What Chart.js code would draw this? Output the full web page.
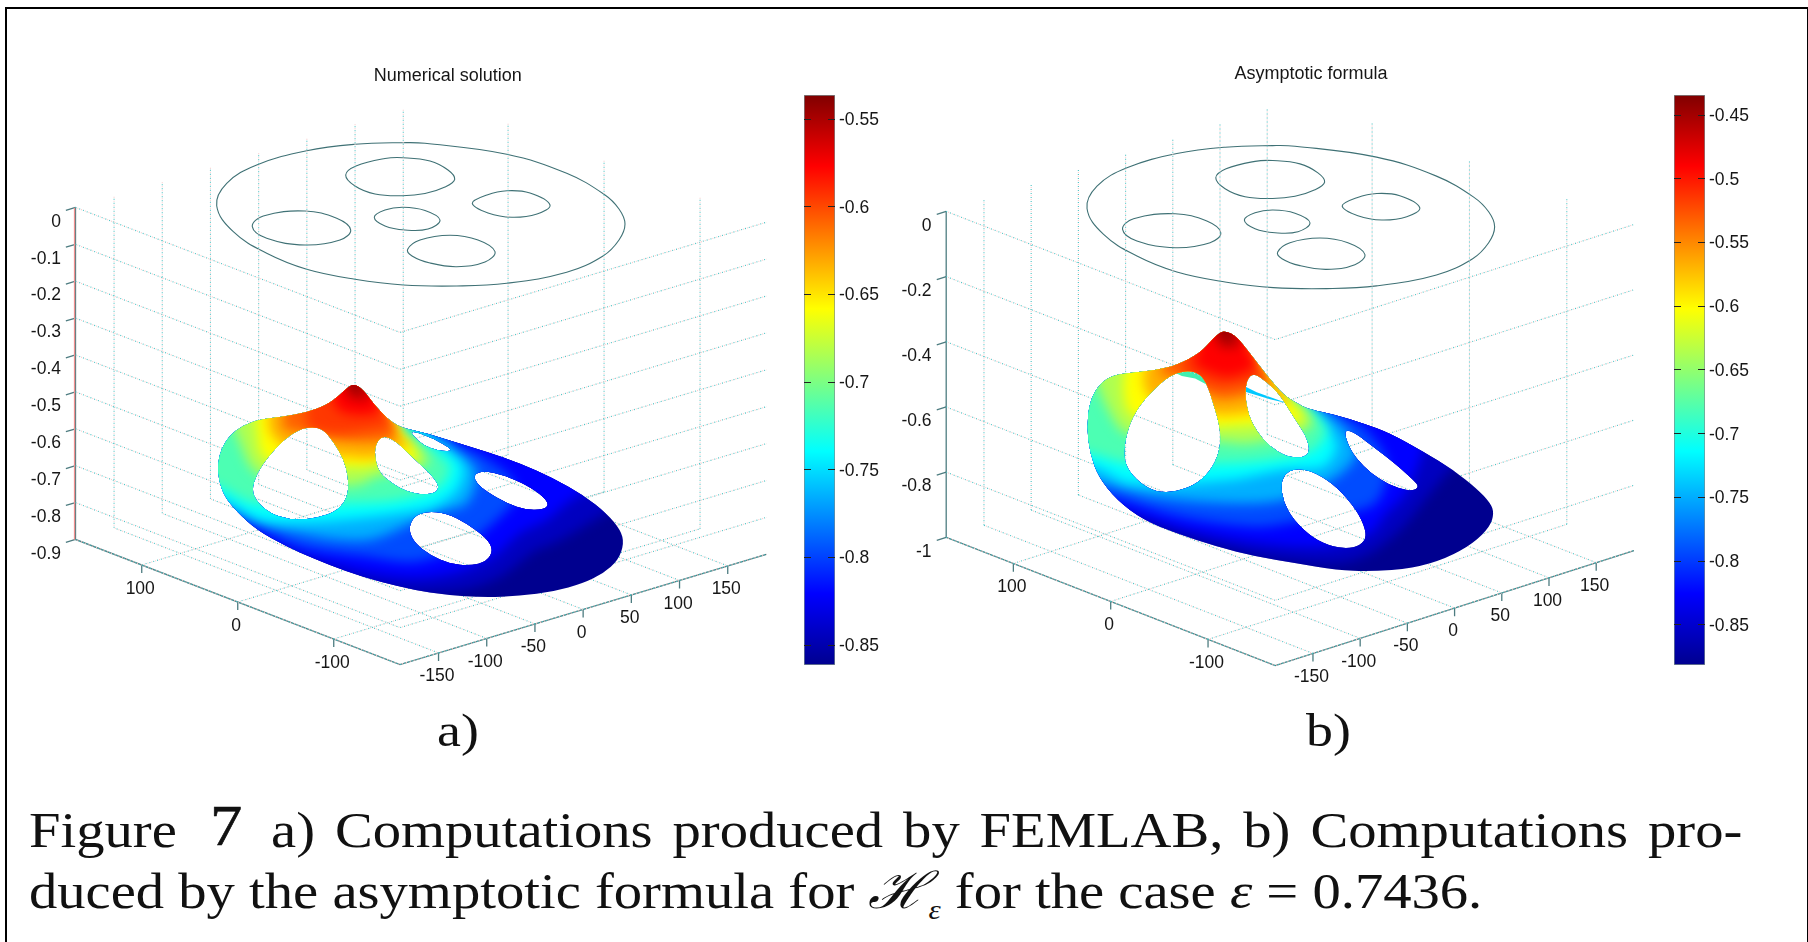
<!DOCTYPE html>
<html>
<head>
<meta charset="utf-8">
<title>Figure 7</title>
<script src="https://cdn.jsdelivr.net/npm/chart.js@4/dist/chart.umd.min.js"></script>
<style>
  html, body { margin: 0; padding: 0; background: #fff; }
  body { width: 1808px; height: 942px; overflow: hidden; position: relative; }
  canvas { position: absolute; }
  #frame { position: absolute; left: 5px; top: 7px; width: 1800px; height: 960px; border: 2px solid #000; }
  .serif { position: absolute; font-family: "Liberation Serif", serif; color: #111; white-space: pre; line-height: 1; transform-origin: left top; }
</style>
</head>
<body>
<div id="frame"></div>

<canvas id="gridA" width="890" height="700" style="left:0;top:0"></canvas>
<canvas id="surfA" width="890" height="700" style="left:0;top:0"></canvas>
<canvas id="barA" width="100" height="610" style="left:804px;top:75px"></canvas>
<canvas id="gridB" width="780" height="700" style="left:890px;top:0"></canvas>
<canvas id="surfB" width="780" height="700" style="left:890px;top:0"></canvas>
<canvas id="barB" width="110" height="610" style="left:1674px;top:75px"></canvas>

<div class="serif" style="left:437px;top:708px;font-size:46px;transform:scaleX(1.17)">a)</div>
<div class="serif" style="left:1306px;top:708px;font-size:46px;transform:scaleX(1.17)">b)</div>

<div class="serif" id="line1" style="left:29px;top:799px;font-size:51px;transform:scaleX(1.11);word-spacing:5.2px">Figure <span style="margin-left:12px;font-size:58px;position:relative;top:-2px;-webkit-text-stroke:0.6px #111">7</span> <span style="margin-left:8px">a) Computations produced by FEMLAB, b) Computations pro-</span></div>
<div class="serif" id="line2" style="left:29px;top:865px;font-size:51px;transform:scaleX(1.11)">duced by the asymptotic formula for <i style="font-family:'DejaVu Serif'">ℋ</i><sub style="font-size:28px;line-height:0"><i>ε</i></sub> for the case <i>ε</i> = 0.7436.</div>

<script>
// Axis ticks of the two 3D boxes
const xTicks = [100, 0, -100];
const yTicks = [-150, -100, -50, 0, 50, 100, 150];
const zTicksA = [0, -0.1, -0.2, -0.3, -0.4, -0.5, -0.6, -0.7, -0.8, -0.9];
const zTicksB = [0, -0.2, -0.4, -0.6, -0.8, -1];
const barTicksA = [-0.55, -0.6, -0.65, -0.7, -0.75, -0.8, -0.85];
const barTicksB = [-0.45, -0.5, -0.55, -0.6, -0.65, -0.7, -0.75, -0.8, -0.85];
const barRangeA = [-0.8614, -0.5361];
const barRangeB = [-0.8814, -0.4343];

// Jet colour stops of the colour bars
const jetStops = [[0, '#00008f'], [0.125, '#0000ff'], [0.375, '#00ffff'], [0.625, '#ffff00'], [0.875, '#ff0000'], [1, '#800000']];

// Domain drawn on the plane z = 0, read off panel a)
const domainOuter = [[216.7,205.7],[226.7,183.3],[256.7,165],[306.7,150.7],[355,144.3],[402.7,142.7],[425,143.3],[506.7,154.3],[566.7,173.3],[604,194.3],[619,209],[625,224],[619,240],[603,256],[566.7,272.3],[506.7,283.3],[456.7,286],[403.3,285],[355,279.3],[306.7,269.3],[266.7,253.3],[233.3,231.7]];
const domainHoles = [
  [[252.3,226.7],[263.3,216],[305,211],[336.7,218.3],[350.7,230],[340,240],[305,245],[266.7,238.3]],
  [[345.7,175],[356,166],[385,158.5],[402.7,157.7],[430,161],[448,170],[454.7,179.3],[445,187],[425,193.5],[402.7,195.7],[375,194],[355,186]],
  [[374.3,217.3],[385,210],[403,207.3],[425,210.5],[440,220],[428,229],[405,230],[385,226]],
  [[472.3,203.3],[487,195],[507,190.7],[530,193],[550,205],[537,214],[512,217.3],[488,213]],
  [[407.7,249.3],[420,240],[450,235.3],[478,240],[495,251.7],[485,262],[456.7,266.7],[430,263],[412,256]]
];

// Surface of panel a): boundary, holes and colour contours in view units
const surfaceOuterA = [[465,42],[490,60],[520,100],[560,145],[600,172],[680,190],[760,215],[860,245],[960,280],[1060,325],[1150,375],[1220,430],[1262,480],[1272,520],[1255,570],[1210,610],[1150,640],[1060,665],[960,678],[850,682],[740,675],[640,660],[540,635],[440,605],[340,565],[260,530],[170,480],[110,425],[70,375],[52,310],[58,250],[85,200],[130,165],[180,148],[250,140],[320,127],[380,105],[420,75],[445,50]];
const surfaceHolesA = [
  [[335,170],[370,178],[400,215],[430,265],[445,320],[445,370],[425,410],[385,435],[320,448],[265,448],[210,430],[170,395],[155,360],[170,310],[205,260],[250,210],[295,180]],
  [[548,195],[590,215],[640,265],[690,310],[717,345],[710,368],[670,375],[620,365],[575,340],[540,310],[525,270],[525,225]],
  [[625,178],[700,205],[760,240],[735,245],[690,235],[655,215]],
  [[820,315],[850,302],[910,315],[980,345],[1030,380],[1047,405],[1030,418],[980,420],[920,400],[860,365],[830,340]],
  [[625,480],[640,440],[680,424],[740,430],[800,460],[860,505],[880,540],[860,575],[810,587],[750,582],[690,555],[645,520]]
];
const contoursA = [
  [[-60,500],[200,560],[400,620],[600,665],[780,660],[900,620],[1000,545],[1060,520],[1150,470],[1230,420],[1300,350]],
  [[-60,470],[200,520],[350,570],[500,610],[640,625],[760,610],[880,560],[960,490],[1040,450],[1100,400],[1180,340],[1200,250]],
  [[-60,420],[120,450],[300,530],[500,560],[650,575],[800,520],[900,440],[950,380],[930,320],[850,260],[760,205]],
  [[-60,400],[90,420],[250,480],[500,510],[700,430],[800,400],[830,300],[760,240],[690,190]],
  [[-60,380],[70,390],[180,450],[350,455],[480,445],[600,430],[700,410],[770,360],[790,290],[740,240],[660,190],[620,170]],
  [[-60,340],[55,350],[160,400],[450,400],[600,390],[720,350],[750,290],[700,240],[640,195],[600,170]],
  [[90,140],[120,220],[160,300],[250,340],[470,345],[530,320],[660,290],[690,270],[640,220],[600,170]],
  [[165,120],[172,190],[190,260],[300,300],[440,290],[500,290],[560,270],[650,270],[645,235],[600,190],[590,150]],
  [[205,120],[212,190],[300,260],[430,260],[520,265],[600,235],[630,225],[590,190],[570,150]],
  [[255,120],[250,175],[330,190],[420,210],[520,215],[590,200],[580,170],[545,130]],
  [[320,120],[325,170],[400,190],[470,185],[540,175],[580,165],[550,120]],
  [[400,95],[415,120],[470,135],[540,125],[530,95]],
  [[440,60],[445,80],[475,90],[510,85],[495,40]],
  [[450,45],[465,60],[485,55],[470,30]]
];

// Surface of panel b)
const surfaceOuterB = [[468,33],[500,50],[540,100],[590,165],[640,225],[690,255],[720,268],[800,285],[880,310],[960,340],[1060,395],[1150,450],[1220,505],[1262,550],[1272,580],[1260,620],[1210,670],[1130,715],[1030,745],[900,755],[800,750],[680,730],[560,710],[440,680],[320,640],[220,600],[140,540],[85,470],[60,400],[50,320],[60,240],[90,190],[130,165],[190,157],[260,150],[320,135],[390,100],[430,55],[450,38]];
const surfaceHolesB = [
  [[320,158],[360,152],[392,163],[412,195],[430,250],[450,320],[452,380],[430,440],[385,490],[320,515],[260,517],[210,490],[170,445],[160,395],[175,320],[205,260],[250,210],[285,178]],
  [[550,158],[590,185],[630,225],[670,290],[710,350],[720,395],[700,413],[650,410],[600,380],[560,335],[535,285],[525,225],[530,180]],
  [[820,330],[850,335],[910,380],[980,435],[1030,480],[1047,500],[1030,513],[985,505],[930,480],[880,440],[840,390]],
  [[632,490],[650,455],[690,445],[740,460],[800,500],[860,570],[888,630],[885,665],[850,685],[790,682],[730,655],[670,600],[640,545]]
];
const contoursB = [
  [[-60,560],[200,610],[400,670],[600,715],[800,730],[900,700],[1000,620],[1080,520],[1150,440],[1250,380]],
  [[-60,530],[150,570],[350,630],[560,670],[760,680],[900,640],[950,580],[1000,530],[1050,420],[1060,350],[1000,300]],
  [[-60,500],[120,530],[330,590],[560,620],[700,600],[900,560],[940,510],[950,420],[880,320],[800,270]],
  [[-60,470],[90,490],[250,530],[480,550],[640,540],[800,470],[860,400],[820,320],[740,265],[700,240]],
  [[-60,430],[70,440],[180,490],[480,480],[640,450],[760,440],[800,380],[770,320],[720,265],[680,235]],
  [[-60,390],[55,400],[170,430],[470,430],[600,420],[730,390],[770,330],[730,280],[690,240],[650,210]],
  [[75,170],[110,260],[170,340],[460,365],[540,370],[680,340],[730,310],[700,265],[640,210]],
  [[165,145],[160,210],[180,280],[300,330],[450,320],[540,315],[700,300],[670,250],[640,215],[600,170]],
  [[225,140],[220,190],[250,240],[440,285],[530,280],[650,245],[620,190],[580,150]],
  [[285,130],[270,165],[330,170],[440,235],[530,225],[600,195],[570,150],[540,110]],
  [[340,130],[330,150],[440,200],[530,190],[585,170],[550,120]],
  [[385,100],[370,130],[460,170],[530,155],[560,130],[530,90]],
  [[440,50],[445,75],[475,85],[510,75],[500,40]],
  [[450,40],[470,55],[490,48],[470,20]]
];
// Thin pieces of surface seen through the holes of panel b)
const sliversB = [
  { color: '#40f0b0', points: [[318,160],[360,153],[392,164],[412,195],[375,176],[335,168]] },
  { color: '#00c8ff', points: [[525,200],[560,217],[652,250],[600,238],[528,216]] }
];
const contourColors = ['#0000c0', '#0000ff', '#004cff', '#00b0ff', '#00ffff', '#4cffb3', '#b0ff50', '#ffff00', '#ffb200', '#ff6100', '#ff3800', '#ff0000', '#bd0000', '#800000'];
const surfaceBase = '#00008f';

// Box limits and view of each panel
const Xmax = 169, Ymax = 190;
const viewA = { cx: 420.9, cy: 546.9, ax: 0.96, ay: 0.964, bx: 0.37, by: 0.29, bz: 369, zmin: -0.9, tickZ: 0.022, labelZ: 61, fringe: true };
const viewB = { cx: 1290.1, cy: 544.3, ax: 0.975, ay: 0.9457, bx: 0.38, by: 0.3033, bz: 326.6, zmin: -1, tickZ: 0.025, labelZ: 931, fringe: false };

Chart.defaults.plugins.legend.display = false;
Chart.defaults.plugins.tooltip.enabled = false;
Chart.defaults.animation = false;
Chart.defaults.responsive = false;

function project(v, X, Y, Z) {
  return {
    x: v.cx - v.ax * X + v.ay * Y,
    y: v.cy - v.bx * X - v.by * Y - v.bz * (Z - v.zmin)
  };
}

function toPoints(list) {
  return list.map(p => ({ x: p[0], y: p[1] }));
}

function dotted(pts) {
  return [
    { data: pts, showLine: true, pointRadius: 0, borderWidth: 1.1, borderColor: '#f7cccc', borderDash: [1, 3], borderDashOffset: 2 },
    { data: pts, showLine: true, pointRadius: 0, borderWidth: 1.1, borderColor: '#48c0c2', borderDash: [1, 3] }
  ];
}

function solid(pts, color) {
  return { data: pts, showLine: true, pointRadius: 0, borderWidth: 1.3, borderColor: color || '#4d7c80' };
}

function boxDatasets(v, zTicks) {
  const out = [];
  const P = (X, Y, Z) => project(v, X, Y, Z);
  yTicks.forEach(Y => out.push(...dotted([P(Xmax, Y, v.zmin), P(Xmax, Y, 0)])));
  xTicks.forEach(X => out.push(...dotted([P(X, Ymax, v.zmin), P(X, Ymax, 0)])));
  zTicks.forEach(Z => out.push(...dotted([P(Xmax, -Ymax, Z), P(-Xmax, -Ymax, Z), P(-Xmax, Ymax, Z)])));
  xTicks.forEach(X => out.push(...dotted([P(X, -Ymax, v.zmin), P(X, Ymax, v.zmin)])));
  yTicks.forEach(Y => out.push(...dotted([P(-Xmax, Y, v.zmin), P(Xmax, Y, v.zmin)])));

  if (v.fringe) out.push(solid([P(Xmax, -Ymax - 1, 0), P(Xmax, -Ymax - 1, v.zmin)], '#f09090'));
  out.push(solid([P(Xmax, -Ymax, 0), P(Xmax, -Ymax, v.zmin), P(-Xmax, -Ymax, v.zmin), P(-Xmax, Ymax, v.zmin)]));
  zTicks.forEach(Z => out.push(solid([P(Xmax, -Ymax, Z), P(Xmax, -Ymax - 10, Z)])));
  xTicks.forEach(X => out.push(solid([P(X, -Ymax, v.zmin), P(X, -Ymax, v.zmin - v.tickZ)])));
  yTicks.forEach(Y => out.push(solid([P(-Xmax, Y, v.zmin), P(-Xmax, Y, v.zmin - v.tickZ)])));
  return out;
}

// Repeats the ends of a closed loop so the spline has no corner at the seam;
// the two extra segments are hidden below
function wrapLoop(loop) {
  return [loop[loop.length - 1], ...loop, loop[0], loop[1]];
}

function domainDatasets() {
  return [domainOuter, ...domainHoles].map(loop => {
    const lastIndex = loop.length + 1;
    return {
      data: toPoints(wrapLoop(loop)),
      xAxisID: 'tx', yAxisID: 'ty',
      showLine: true, pointRadius: 0, borderWidth: 1.1, borderColor: '#3f7175', tension: 0.4,
      segment: {
        borderColor: ctx => (ctx.p0DataIndex === 0 || ctx.p0DataIndex === lastIndex ? 'transparent' : undefined)
      }
    };
  });
}

// Axis labels and the title of one panel, placed through the scales
function labelPlugin(v, zTicks, title, titleX, titleY) {
  return {
    id: 'boxLabels',
    afterDraw(chart) {
      const c = chart.ctx, sx = chart.scales.x, sy = chart.scales.y;
      const text = (s, p, dx, dy, align) => {
        c.textAlign = align;
        c.fillText(s, sx.getPixelForValue(p.x + dx), sy.getPixelForValue(p.y + dy));
      };
      c.save();
      c.fillStyle = '#161616';
      c.textBaseline = 'middle';
      c.font = '17.5px "Liberation Sans"';
      zTicks.forEach(Z => {
        const p = project(v, Xmax, -Ymax, Z);
        text(String(Z), { x: v.labelZ, y: p.y }, 0, 14.5, 'right');
      });
      xTicks.forEach(X => text(String(X), project(v, X, -Ymax, v.zmin), -1.5, 24, 'center'));
      yTicks.forEach(Y => text(String(Y), project(v, -Xmax, Y, v.zmin), -1.5, 23.5, 'center'));
      c.font = '18px "Liberation Sans"';
      text(title, { x: titleX, y: titleY }, 0, 0.5, 'center');
      c.restore();
    }
  };
}

function boxChart(id, v, zTicks, xRange, domainShift, extra, title, titleX, titleY) {
  return new Chart(document.getElementById(id), {
    type: 'scatter',
    data: { datasets: [...boxDatasets(v, zTicks), ...domainDatasets(), ...extra] },
    options: {
      layout: { padding: 0 },
      scales: {
        x: { display: false, min: xRange[0], max: xRange[1] },
        y: { display: false, min: 0, max: 700, reverse: true },
        tx: { display: false, axis: 'x', min: xRange[0] - domainShift[0], max: xRange[1] - domainShift[0] },
        ty: { display: false, axis: 'y', min: -domainShift[1], max: 700 - domainShift[1], reverse: true }
      }
    },
    plugins: [labelPlugin(v, zTicks, title, titleX, titleY)]
  });
}

// Closes a contour upward, past the top of the surface
function closeContour(list) {
  const first = list[0], last = list[list.length - 1];
  return [...list, [last[0], -60], [first[0], -60]];
}

function tracePath(c, loop, sx, sy) {
  const pts = loop.map(p => [sx.getPixelForValue(p[0]), sy.getPixelForValue(p[1])]);
  const n = pts.length;
  c.moveTo((pts[n - 1][0] + pts[0][0]) / 2, (pts[n - 1][1] + pts[0][1]) / 2);
  for (let i = 0; i < n; i++) {
    const q = pts[(i + 1) % n];
    c.quadraticCurveTo(pts[i][0], pts[i][1], (pts[i][0] + q[0]) / 2, (pts[i][1] + q[1]) / 2);
  }
  c.closePath();
}

function surfaceChart(id, outer, holes, contours, sxRange, syRange) {
  const sets = [{
    data: toPoints([[-100, -100], [1500, -100], [1500, 900], [-100, 900]]),
    showLine: true, pointRadius: 0, borderWidth: 0, fill: 'shape', backgroundColor: surfaceBase, order: 0
  }];
  contours.forEach((list, i) => {
    sets.push({
      data: toPoints(closeContour(list)),
      showLine: true, pointRadius: 0, borderWidth: 0, tension: 0.3,
      fill: 'shape', backgroundColor: contourColors[i], order: -i - 1
    });
  });
  return new Chart(document.getElementById(id), {
    type: 'scatter',
    data: { datasets: sets },
    options: {
      layout: { padding: 0 },
      scales: {
        x: { display: false, min: sxRange[0], max: sxRange[1] },
        y: { display: false, min: syRange[0], max: syRange[1], reverse: true }
      }
    },
    plugins: [{
      id: 'surfaceClip',
      beforeDraw(chart) {
        const c = chart.ctx;
        c.save();
        c.beginPath();
        [outer, ...holes].forEach(loop => tracePath(c, loop, chart.scales.x, chart.scales.y));
        c.clip('evenodd');
        c.filter = 'blur(6px)';
      },
      afterDraw(chart) {
        chart.ctx.restore();
      }
    }]
  });
}

function colorBar(id, range, ticks, labelWidth) {
  return new Chart(document.getElementById(id), {
    type: 'bar',
    data: {
      labels: ['colour'],
      datasets: [{
        data: [range],
        barPercentage: 1,
        categoryPercentage: 1,
        borderWidth: 1,
        borderColor: '#7b8c8e',
        borderSkipped: false,
        backgroundColor(ctx) {
          const area = ctx.chart.chartArea;
          if (!area) return '#00008f';
          const g = ctx.chart.ctx.createLinearGradient(0, area.bottom, 0, area.top);
          jetStops.forEach(s => g.addColorStop(s[0], s[1]));
          return g;
        }
      }]
    },
    options: {
      layout: { padding: { top: 20, bottom: 20, left: 0, right: 0 } },
      scales: {
        x: { display: false },
        y: {
          position: 'right',
          min: range[0],
          max: range[1],
          afterBuildTicks(scale) { scale.ticks = ticks.map(v => ({ value: v })); },
          afterFit(scale) { scale.width = labelWidth; },
          ticks: {
            autoSkip: false,
            padding: 4,
            labelOffset: 1,
            color: '#161616',
            font: { family: '"Liberation Sans"', size: 17.5 },
            callback: v => String(v)
          },
          grid: { z: 1, color: '#222', drawTicks: false },
          border: { display: false, dash: [7, 17] }
        }
      }
    }
  });
}

boxChart('gridA', viewA, zTicksA, [0, 890], [0, 0], [], 'Numerical solution', 447.8, 75.5);
surfaceChart('surfA', surfaceOuterA, surfaceHolesA, contoursA, [-600, 2070], [-1110, 990]);
colorBar('barA', barRangeA, barTicksA, 69);

const sliverSets = sliversB.map(s => ({
  data: toPoints(s.points), xAxisID: 'sx', yAxisID: 'sy',
  showLine: true, pointRadius: 0, borderWidth: 0, fill: 'shape', backgroundColor: s.color
}));
const gridB = boxChart('gridB', viewB, zTicksB, [890, 1670], [870, 2.5], sliverSets, 'Asymptotic formula', 1311, 72.7);
gridB.options.scales.sx = { display: false, axis: 'x', min: -540, max: 1800 };
gridB.options.scales.sy = { display: false, axis: 'y', min: -960, max: 1140, reverse: true };
gridB.update();
surfaceChart('surfB', surfaceOuterB, surfaceHolesB, contoursB, [-540, 1800], [-960, 1140]);
colorBar('barB', barRangeB, barTicksB, 79);
</script>
</body>
</html>
